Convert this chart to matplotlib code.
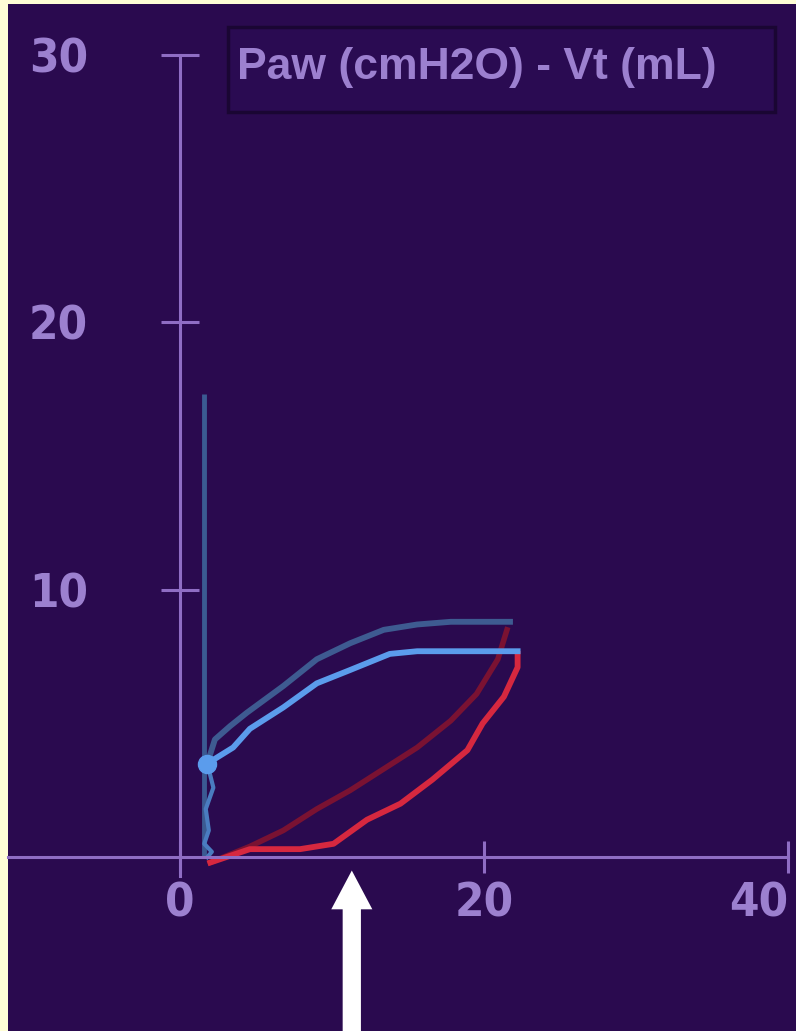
import matplotlib.pyplot as plt
from matplotlib.patches import Rectangle, FancyArrow
from matplotlib import font_manager

# Paw - Vt loop
spike_x = [1.6, 1.6]
spike_y = [0.0, 17.3]

insp_dark_x = [2.0, 4.6, 6.8, 9.0, 11.2, 13.4, 15.6, 17.8, 19.5, 20.9, 21.5]
insp_dark_y = [-0.2, 0.4, 1.0, 1.8, 2.5, 3.3, 4.1, 5.1, 6.1, 7.4, 8.5]

insp_red_x = [2.0, 4.6, 7.9, 10.1, 12.3, 14.5, 16.6, 18.9, 19.9, 21.3, 22.2, 22.2]
insp_red_y = [-0.2, 0.3, 0.3, 0.5, 1.4, 2.0, 2.9, 4.0, 5.0, 6.0, 7.1, 7.6]

exp_dark_x = [21.7, 17.8, 15.6, 13.4, 11.2, 9.0, 6.8, 4.4, 3.3, 2.3, 1.8]
exp_dark_y = [8.8, 8.8, 8.7, 8.5, 8.0, 7.4, 6.4, 5.4, 4.9, 4.4, 3.5]

exp_light_x = [22.2, 15.6, 13.8, 11.2, 9.0, 6.8, 4.6, 3.5, 1.8]
exp_light_y = [7.7, 7.7, 7.6, 7.0, 6.5, 5.6, 4.8, 4.1, 3.5]

tail_x = [1.8, 2.2, 1.7, 1.9, 1.6, 2.1, 1.8]
tail_y = [3.5, 2.6, 1.8, 1.0, 0.5, 0.2, 0.0]

x_ticks = [0, 20, 40]
y_ticks = [10, 20, 30]
titel = 'Paw (cmH2O) - Vt (mL)'
arrow_x = 11.3

bg = '#2a0a4f'
os_boja = '#8f6dc4'
tekst_boja = '#9c80cf'

# uski font za brojeve na osima, ako postoji
uski = None
for f in font_manager.fontManager.ttflist:
    if 'Condensed' in f.fname and 'Bold' in f.fname and 'DejaVuSans' in f.fname and 'Oblique' not in f.fname:
        uski = f.fname
print('condensed font:', uski)

W, H = 796, 1031
fig = plt.figure(figsize=(W / 100, H / 100), dpi=100, facecolor='#fffed6')
ax = fig.add_axes([8 / W, 0, (W - 8) / W, (H - 4) / H])
ax.set_facecolor(bg)
ax.set_xlim(-11.3, 40.5)
ax.set_ylim(-6.5, 31.9)

# osi kroz ishodiste
for s in ['top', 'right']:
    ax.spines[s].set_visible(False)
ax.spines['left'].set_position(('data', 0))
ax.spines['bottom'].set_position(('data', 0))
ax.spines['left'].set_bounds(-0.7, 30)
ax.spines['bottom'].set_bounds(-11.3, 40)
for s in ['left', 'bottom']:
    ax.spines[s].set_color(os_boja)
    ax.spines[s].set_linewidth(2.2)

ax.set_xticks(x_ticks)
ax.set_yticks(y_ticks)
ax.tick_params(axis='y', direction='inout', length=28, width=2.2, color=os_boja,
               labelcolor=tekst_boja, pad=52)
ax.tick_params(axis='x', direction='inout', length=23, width=2.2, color=os_boja,
               labelcolor=tekst_boja, pad=6)
for lab in ax.get_xticklabels() + ax.get_yticklabels():
    if uski:
        lab.set_fontproperties(font_manager.FontProperties(fname=uski, size=34))
    else:
        lab.set_fontweight('bold')
        lab.set_fontsize(30)
ax.get_xticklabels()[-1].set_ha('right')

# krivulje
ax.plot(spike_x, spike_y, color='#3b5a92', lw=3.5, solid_capstyle='butt')
ax.plot(tail_x, tail_y, color='#4a7cc0', lw=3)
ax.plot(insp_dark_x, insp_dark_y, color='#7a1232', lw=4)
ax.plot(insp_red_x, insp_red_y, color='#d6283f', lw=4.2)
ax.plot(exp_dark_x, exp_dark_y, color='#3e5b91', lw=4.2)
ax.plot(exp_light_x, exp_light_y, color='#5b9cec', lw=4.2)
ax.plot(exp_light_x[-1], exp_light_y[-1], 'o', color='#5b9cec', ms=13)

# strelica
ax.add_patch(FancyArrow(arrow_x, -6.5, 0, 6.0, width=1.2, head_width=2.7,
                        head_length=1.45, length_includes_head=True,
                        color='white', lw=0))

# naslov u okviru
fig.add_artist(Rectangle((228 / W, 1 - 112 / H), (775 - 228) / W, 85 / H,
                         transform=fig.transFigure, facecolor='#2a0b52',
                         edgecolor='#1a0633', lw=2.5))
fig.text(237 / W, 1 - 68 / H, titel, ha='left', va='center', fontsize=32,
         fontweight='bold', family='Liberation Sans', color=tekst_boja)

plt.savefig('out.png', dpi=100, facecolor=fig.get_facecolor())
